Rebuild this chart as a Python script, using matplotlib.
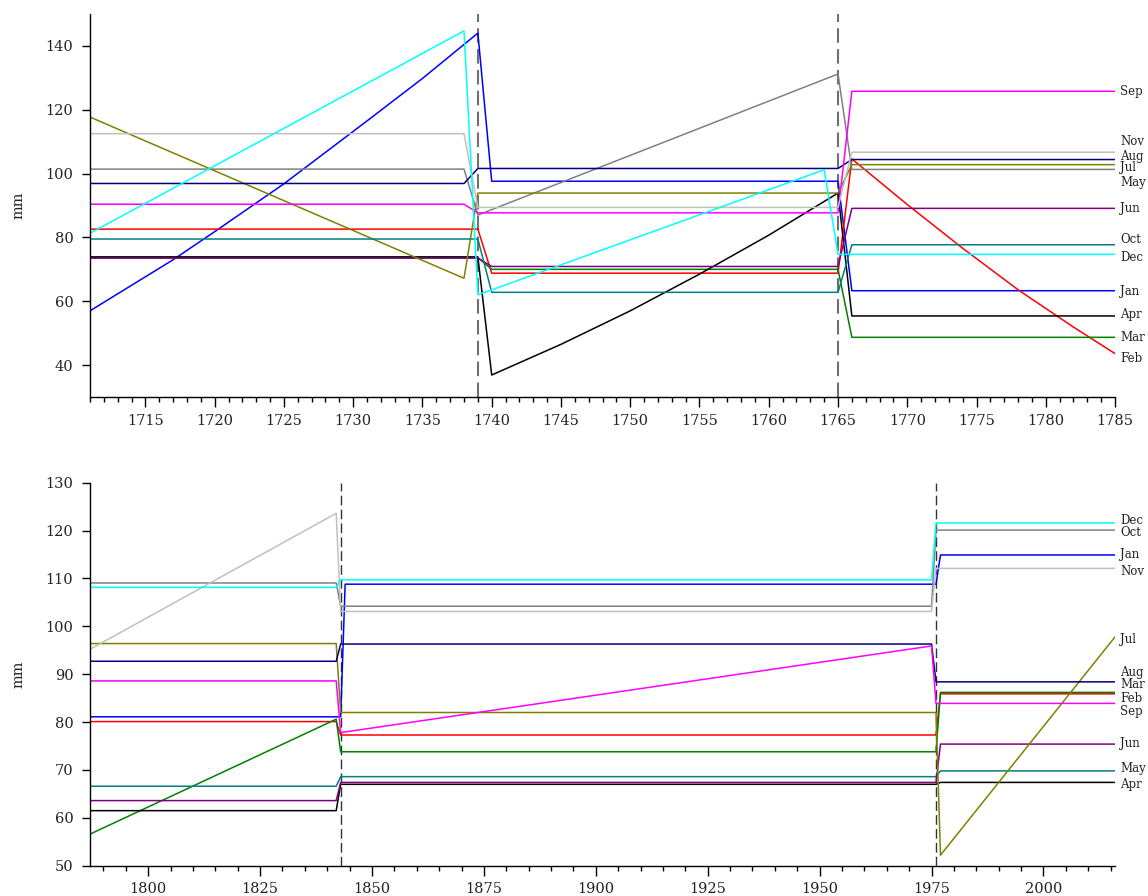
import numpy as np
import matplotlib.pyplot as plt
from matplotlib.ticker import MultipleLocator

# monthly precipitation (mm), piecewise segments between break years
# each series is a list of (year, mm) knots

# 1711-1785
top_jan = [(1711, 57.0), (1717, 73.0), (1720, 81.8), (1725, 96.8), (1731, 116.5),
           (1735, 129.8), (1739, 144.0), (1740, 97.6), (1765, 97.6), (1766, 63.3), (1785, 63.3)]
top_feb = [(1711, 82.6), (1739, 82.6), (1740, 68.8), (1765, 68.8), (1766, 104.6),
           (1770, 90.3), (1774, 76.6), (1778, 63.6), (1782, 51.9), (1785, 43.6)]
top_mar = [(1711, 73.7), (1739, 73.7), (1740, 70.0), (1765, 70.0), (1766, 48.7), (1785, 48.7)]
top_apr = [(1711, 73.9), (1739, 73.9), (1740, 36.9), (1745, 46.5), (1750, 57.0),
           (1755, 68.5), (1760, 80.7), (1765, 93.9), (1766, 55.4), (1785, 55.4)]
top_may = [(1711, 101.4), (1738, 101.4), (1739, 87.0), (1765, 131.2), (1766, 101.3), (1785, 101.3)]
top_jun = [(1711, 73.5), (1739, 73.5), (1740, 70.9), (1765, 70.9), (1766, 89.1), (1785, 89.1)]
top_jul = [(1711, 117.7), (1738, 67.2), (1739, 93.9), (1765, 93.9), (1766, 102.8), (1785, 102.8)]
top_aug = [(1711, 96.9), (1738, 96.9), (1739, 101.6), (1765, 101.6), (1766, 104.4), (1785, 104.4)]
top_sep = [(1711, 90.4), (1738, 90.4), (1739, 87.7), (1765, 87.7), (1766, 125.8), (1785, 125.8)]
top_oct = [(1711, 79.5), (1739, 79.5), (1740, 62.8), (1765, 62.8), (1766, 77.7), (1785, 77.7)]
top_nov = [(1711, 112.5), (1738, 112.5), (1739, 89.4), (1765, 89.4), (1766, 106.7), (1785, 106.7)]
top_dec = [(1711, 81.3), (1738, 144.7), (1739, 62.0), (1764, 101.2), (1765, 74.7), (1785, 74.7)]
top_breaks = [1739, 1765]

# 1787-2016
bot_jan = [(1787, 81.1), (1843, 81.1), (1844, 108.8), (1976, 108.8), (1977, 114.9), (2016, 114.9)]
bot_feb = [(1787, 80.1), (1842, 80.1), (1843, 77.3), (1976, 77.3), (1977, 85.9), (2016, 85.9)]
bot_mar = [(1787, 56.6), (1842, 80.6), (1843, 73.8), (1976, 73.8), (1977, 86.2), (2016, 86.2)]
bot_apr = [(1787, 61.5), (1842, 61.5), (1843, 67.0), (1976, 67.0), (1977, 67.4), (2016, 67.4)]
bot_may = [(1787, 66.6), (1842, 66.6), (1843, 68.6), (1976, 68.6), (1977, 69.8), (2016, 69.8)]
bot_jun = [(1787, 63.6), (1842, 63.6), (1843, 67.4), (1976, 67.4), (1977, 75.4), (2016, 75.4)]
bot_jul = [(1787, 96.4), (1842, 96.4), (1843, 82.0), (1976, 82.0), (1977, 52.2), (2016, 97.8)]
bot_aug = [(1787, 92.7), (1842, 92.7), (1843, 96.3), (1975, 96.3), (1976, 88.4), (2016, 88.4)]
bot_sep = [(1787, 88.6), (1842, 88.6), (1843, 77.8), (1975, 95.9), (1976, 83.9), (2016, 83.9)]
bot_oct = [(1787, 109.05), (1842, 109.05), (1843, 104.2), (1975, 104.2), (1976, 120.1), (2016, 120.1)]
bot_nov = [(1787, 95.2), (1842, 123.6), (1843, 103.1), (1975, 103.1), (1976, 112.1), (2016, 112.1)]
bot_dec = [(1787, 108.15), (1842, 108.15), (1843, 109.7), (1975, 109.7), (1976, 121.6), (2016, 121.6)]
bot_breaks = [1843, 1976]

months = ["Jan", "Feb", "Mar", "Apr", "May", "Jun", "Jul", "Aug", "Sep", "Oct", "Nov", "Dec"]
top_series = [top_jan, top_feb, top_mar, top_apr, top_may, top_jun,
              top_jul, top_aug, top_sep, top_oct, top_nov, top_dec]
bot_series = [bot_jan, bot_feb, bot_mar, bot_apr, bot_may, bot_jun,
              bot_jul, bot_aug, bot_sep, bot_oct, bot_nov, bot_dec]

top_colors = ["blue", "red", "green", "black", "gray", "purple",
              "olive", "navy", "magenta", "teal", "silver", "cyan"]
bot_colors = ["blue", "red", "green", "black", "teal", "purple",
              "olive", "navy", "magenta", "gray", "silver", "cyan"]

# label heights, spread apart so the month names don't collide
top_label_y = {"Sep": 125.8, "Nov": 110.1, "Aug": 105.4, "Jul": 101.8, "May": 97.3,
               "Jun": 89.0, "Oct": 79.2, "Dec": 73.6, "Jan": 63.0, "Apr": 55.8,
               "Mar": 48.7, "Feb": 42.2}
bot_label_y = {"Dec": 122.2, "Oct": 119.6, "Jan": 115.0, "Nov": 111.4, "Jul": 97.3,
               "Aug": 90.3, "Mar": 87.9, "Feb": 84.9, "Sep": 82.2, "Jun": 75.5,
               "May": 70.3, "Apr": 66.9}

plt.rcParams["font.family"] = ["DejaVu Serif"]

fig = plt.figure(figsize=(11.48, 8.96), dpi=100)
ax1 = fig.add_axes([0.0784, 0.5569, 0.8929, 0.4275])
ax2 = fig.add_axes([0.0784, 0.0338, 0.8929, 0.4275])


def draw_panel(ax, series, colors, breaks, label_y, vcol, vlw):
    for name, s, c in zip(months, series, colors):
        yr = np.array([p[0] for p in s])
        mm = np.array([p[1] for p in s])
        ax.plot(yr, mm, color=c, lw=1.1, zorder=2)
    for b in breaks:
        ax.axvline(b, color=vcol, lw=vlw, ls=(0, (7, 3)), zorder=1)
    for name, c in zip(months, colors):
        ax.annotate(name, xy=(1, label_y[name]), xycoords=("axes fraction", "data"),
                    xytext=(3.5, 0), textcoords="offset points",
                    ha="left", va="center", fontsize=8.5, color="#222222",
                    annotation_clip=False)
    for sp in ["top", "right"]:
        ax.spines[sp].set_visible(False)
    for sp in ["left", "bottom"]:
        ax.spines[sp].set_linewidth(1.0)
    ax.tick_params(axis="x", which="major", length=7, width=1, labelsize=10.5,
                   pad=5, labelcolor="#222222")
    ax.tick_params(axis="x", which="minor", length=3.6, width=1)
    ax.tick_params(axis="y", which="major", length=6, width=1, labelsize=10.5,
                   pad=6, labelcolor="#222222")
    ax.set_ylabel("mm", fontsize=10.5, color="#222222")
    ax.yaxis.set_label_coords(-0.0634, 0.5)


draw_panel(ax1, top_series, top_colors, top_breaks, top_label_y, "#707070", 1.5)
ax1.set_xlim(1711, 1785)
ax1.set_ylim(30, 150)
ax1.xaxis.set_major_locator(MultipleLocator(5))
ax1.xaxis.set_minor_locator(MultipleLocator(1))
ax1.set_yticks([40, 60, 80, 100, 120, 140])

draw_panel(ax2, bot_series, bot_colors, bot_breaks, bot_label_y, "#333333", 1.0)
ax2.set_xlim(1787, 2016)
ax2.set_ylim(50, 130)
ax2.xaxis.set_major_locator(MultipleLocator(25))
ax2.xaxis.set_minor_locator(MultipleLocator(5))
ax2.set_yticks(np.arange(50, 131, 10))

fig.savefig("out.png", dpi=100)
